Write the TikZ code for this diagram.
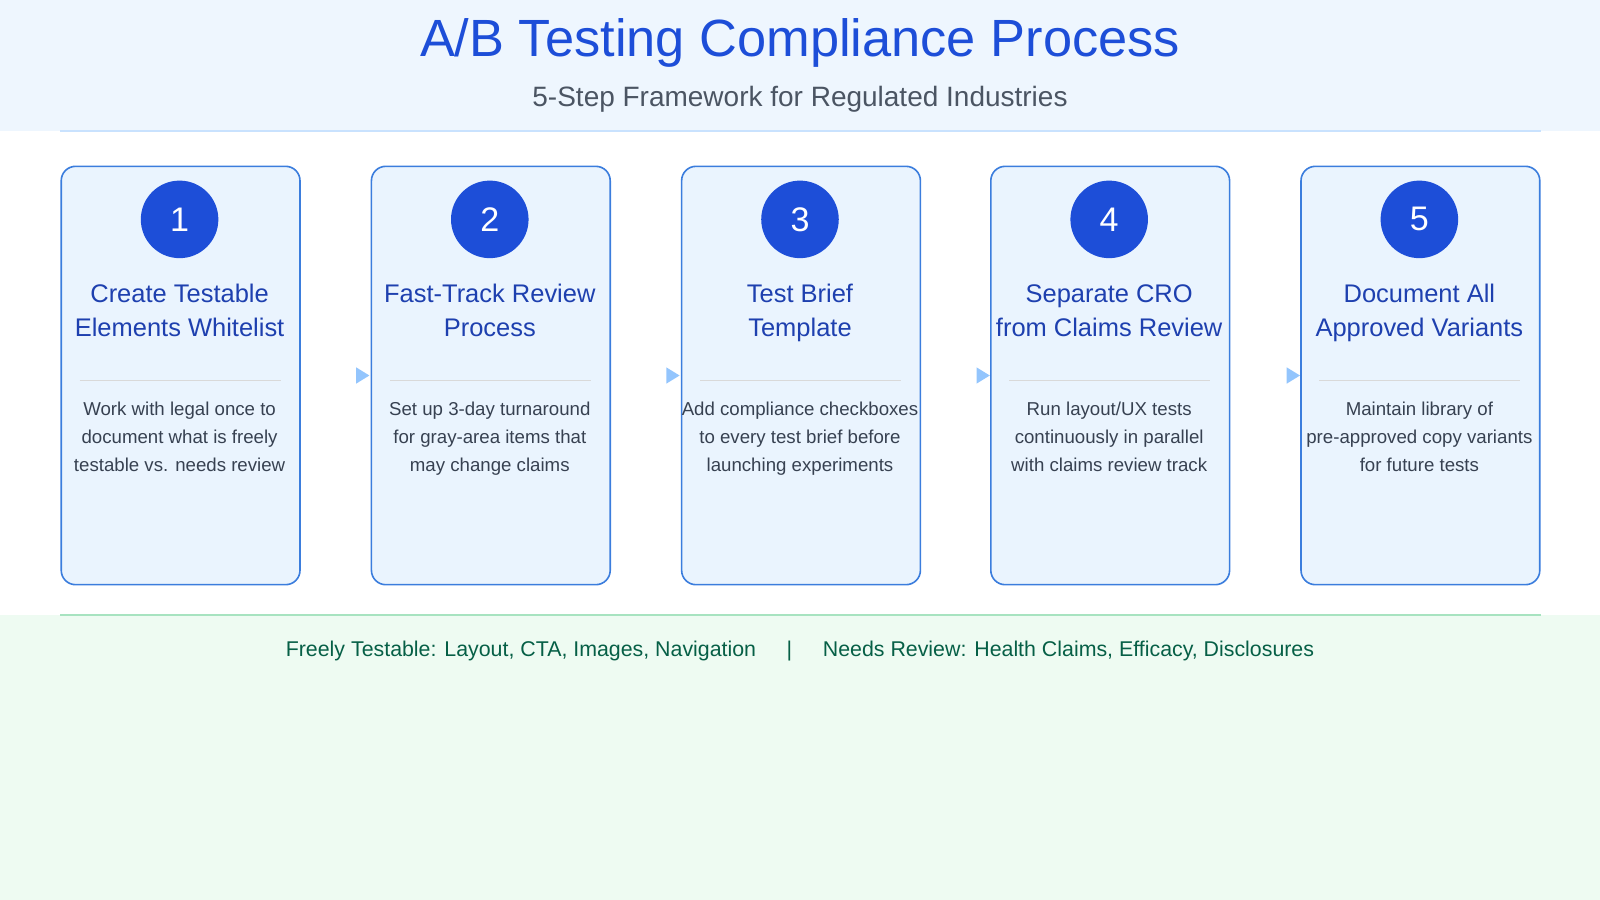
\documentclass[tikz,border=0pt]{standalone}
\usepackage{fontspec}
\setmainfont{Liberation Sans}
\definecolor{hdr}{HTML}{EEF6FE}
\definecolor{cardfill}{HTML}{EAF4FE}
\definecolor{cardline}{HTML}{3B7DDD}
\definecolor{circ}{HTML}{1D4ED8}
\definecolor{ttl}{HTML}{1E40AF}
\definecolor{bodyc}{HTML}{374151}
\definecolor{arr}{HTML}{93C5FD}
\definecolor{ftr}{HTML}{EEFBF2}
\definecolor{ftrline}{HTML}{A7E3C0}
\definecolor{ftrtext}{HTML}{065F46}
\definecolor{subc}{HTML}{4B5563}
\newlength{\pxu}\setlength{\pxu}{0.01cm}
\tikzset{
 card/.style={draw=cardline,line width=0.45pt,fill=cardfill,rounded corners=4pt,minimum width=234\pxu,minimum height=410\pxu,inner sep=0pt},
 numc/.style={circle,fill=circ,minimum size=76\pxu,inner sep=0pt,text=white,font=\fontsize{9.5}{11}\selectfont},
 ctitle/.style={text=ttl,align=center,anchor=base,inner sep=0pt,font=\fontsize{7.1}{9.4}\selectfont},
 cbody/.style={text=bodyc,align=center,anchor=base,inner sep=0pt,font=\fontsize{5.2}{7.85}\selectfont},
 tri/.style={fill=arr,draw=none},
}
\begin{document}
\begin{tikzpicture}[x=0.01cm,y=-0.01cm]
\useasboundingbox (0,0) rectangle (1568,882);
\fill[hdr] (0,0) rectangle (1568,128);
\fill[ftr] (0,603) rectangle (1568,882);
\draw[arr!50,line width=0.5pt] (59,128) -- (1510,128);
\draw[ftrline,line width=0.5pt] (59,603) -- (1510,603);
\node[text=circ,font=\fontsize{14.6}{18}\selectfont] (title) at (784,42) {A/B Testing Compliance Process};
\node[text=subc,font=\fontsize{7.8}{9}\selectfont] (sub) at (784,97) {5-Step Framework for Regulated Industries};
\foreach \i/\x/\t/\b in {
 1/177/{Create Testable\\Elements Whitelist}/{Work with legal once to\\document what is freely\\testable vs. needs review},
 2/481/{Fast-Track Review\\Process}/{Set up 3-day turnaround\\for gray-area items that\\may change claims},
 3/785/{Test Brief\\Template}/{Add compliance checkboxes\\to every test brief before\\launching experiments},
 4/1088/{Separate CRO\\from Claims Review}/{Run layout/UX tests\\continuously in parallel\\with claims review track},
 5/1392/{Document All\\Approved Variants}/{Maintain library of\\pre-approved copy variants\\for future tests}}{
 \node[card] (card\i) at (\x,368) {};
 \node[numc] (num\i) at (\x-1,215) {\i};
 \node[ctitle] (t\i) at (\x-1,330) {\t};
 \draw[black!15,line width=0.3pt] (\x-99,373) -- (\x+98,373);
 \node[cbody] (b\i) at (\x-1,462) {\b};
}
\foreach \x/\n in {355/a1,659/a2,963/a3,1267/a4}{
 \coordinate (\n) at (\x,368);
 \fill[tri] ([xshift=-6\pxu,yshift=8\pxu]\n) -- ([xshift=7\pxu]\n) -- ([xshift=-6\pxu,yshift=-8\pxu]\n) -- cycle;
}
\node[text=ftrtext,font=\fontsize{5.95}{7}\selectfont] (foot) at (784,638) {Freely Testable: Layout, CTA, Images, Navigation\hspace{30\pxu}|\hspace{30\pxu}Needs Review: Health Claims, Efficacy, Disclosures};
\end{tikzpicture}
\end{document}
